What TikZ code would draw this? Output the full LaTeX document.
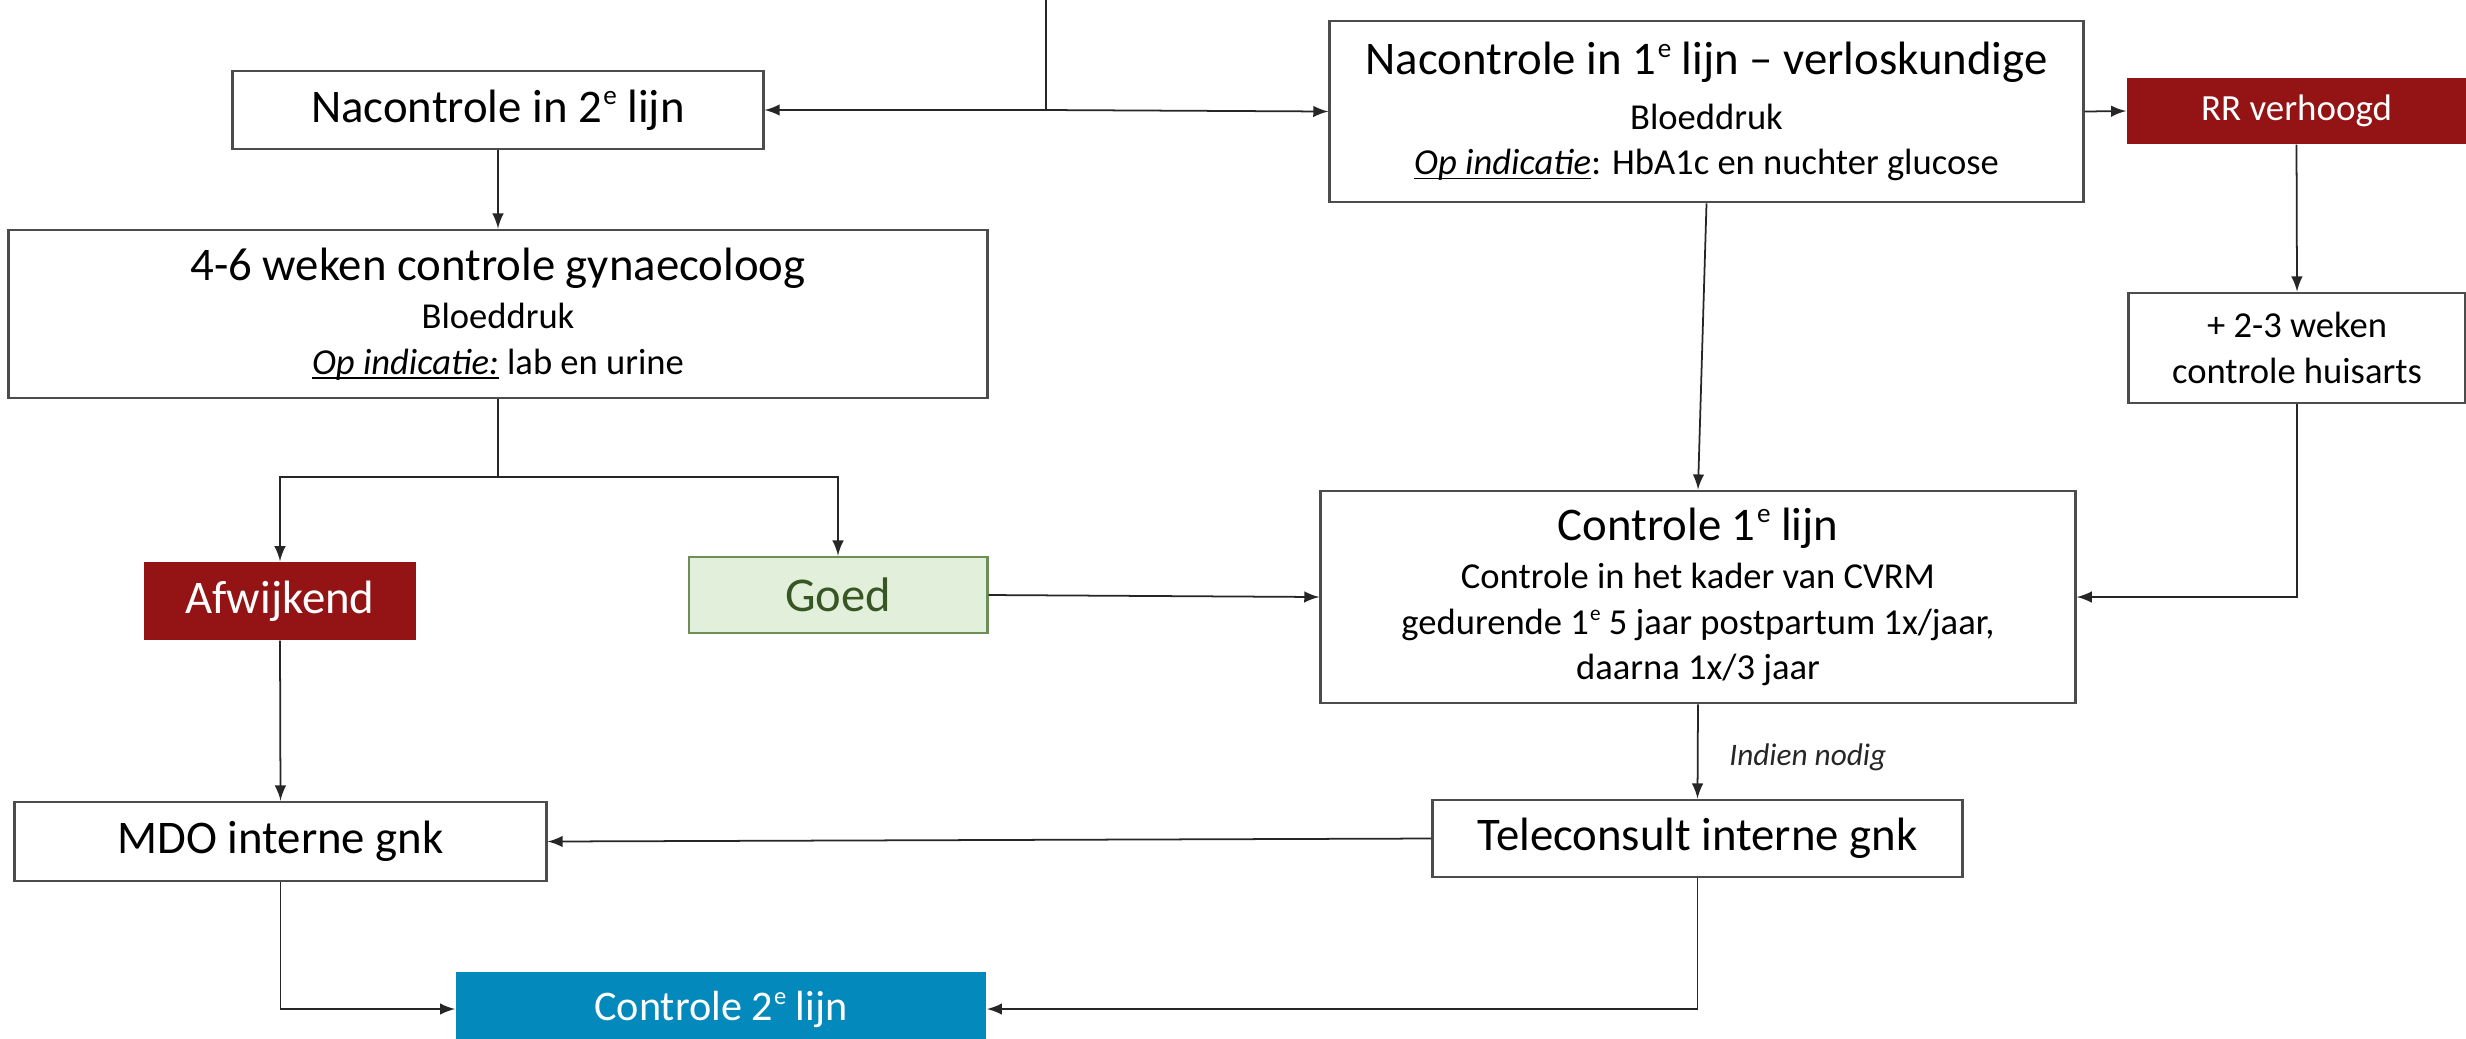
\documentclass[tikz,border=0pt]{standalone}
\usepackage{fontspec}
\setmainfont{Carlito}
\usepackage{graphicx}
\usepackage{tikz}
\definecolor{donkerrood}{RGB}{148,19,20}
\definecolor{lijnblauw}{RGB}{3,137,187}
\definecolor{goedgroen}{RGB}{226,239,218}
\definecolor{goedrand}{RGB}{110,142,88}
\definecolor{goedtekst}{RGB}{55,86,35}
\newcommand{\titel}[1]{{\fontsize{13.3}{16}\selectfont #1}}
\newcommand{\ondstr}[1]{\setbox0\hbox{#1}\rlap{\rule[-1.4pt]{\wd0}{0.5pt}}\box0\relax}
\newcommand{\ste}{\kern0.03em\raisebox{0.38em}{\scalebox{0.58}{e}}}
\tikzset{
  blok/.style={draw=black!70, line width=0.8pt, align=center, font=\fontsize{10.4}{12.9}\selectfont},
  rood/.style={fill=donkerrood, text=white},
  lijn/.style={line width=0.5pt, black!85},
  pijl/.style={lijn, -latex}
}

\begin{document}
\begin{tikzpicture}[x=0.01cm,y=-0.01cm]
\useasboundingbox (0,0) rectangle (2466,1038);

\node[blok, minimum width=5.3cm, minimum height=0.78cm] (n2) at (498,110) {\titel{Nacontrole in 2\ste{} lijn}};
\node[blok, minimum width=7.53cm, minimum height=1.81cm] (n1) at (1706.5,111.5) {\titel{Nacontrole in 1\ste{} lijn \textendash{} verloskundige}\\[2.5pt] Bloeddruk\\ \ondstr{\textit{Op indicatie}}: HbA1c en nuchter glucose};
\node[rood, minimum width=3.39cm, minimum height=0.66cm, font=\fontsize{10.5}{12.6}\selectfont] (rr) at (2296.5,111) {RR verhoogd};
\node[blok, minimum width=3.37cm, minimum height=1.1cm] (huis) at (2297,348) {+ 2-3 weken\\ controle huisarts};

\node[blok, minimum width=9.78cm, minimum height=1.68cm] (gyn) at (498,314) {\titel{4-6 weken controle gynaecoloog}\\[0.8pt] Bloeddruk\\ \ondstr{\textit{Op indicatie:}} lab en urine};
\node[rood, minimum width=2.72cm, minimum height=0.78cm, font=\fontsize{13.3}{16}\selectfont] (afw) at (280,601) {Afwijkend};
\node[fill=goedgroen, draw=goedrand, line width=0.8pt, text=goedtekst, minimum width=2.98cm, minimum height=0.76cm, font=\fontsize{13.8}{16}\selectfont] (goed) at (838,595) {Goed};

\node[blok, minimum width=7.54cm, minimum height=2.12cm] (c1) at (1698,597) {\titel{Controle 1\ste{} lijn}\\[0.8pt] Controle in het kader van CVRM\\ gedurende 1\ste{} 5 jaar postpartum 1x/jaar,\\ daarna 1x/3 jaar};
\node[blok, minimum width=5.29cm, minimum height=0.77cm] (tele) at (1697.5,838.5) {\titel{Teleconsult interne gnk}};
\node[blok, minimum width=5.31cm, minimum height=0.79cm] (mdo) at (280.5,841.5) {\titel{MDO interne gnk}};
\node[fill=lijnblauw, text=white, minimum width=5.3cm, minimum height=0.74cm, font=\fontsize{12}{14}\selectfont] (c2) at (721,1009) {Controle 2\ste{} lijn};

\coordinate (top) at (1046,0);
\coordinate (splitn) at (1046,110);
\draw [lijn](top)--(splitn);
\draw [pijl](splitn)--(n2.east);
\draw [pijl](splitn)--(n1.west);
\draw [pijl](n1.east)--(rr.west);
\draw [pijl](rr.south)--(huis.north);

\draw [pijl](n2.south)--(gyn.north);
\coordinate (splitg) at (498,477);
\draw [lijn](gyn.south)--(splitg);
\draw [pijl](splitg)-|(afw.north);
\draw [pijl](splitg)-|(goed.north);

\draw [pijl](goed.east)--(c1.west);
\draw [pijl](n1.south)--(c1.north);
\draw [pijl](huis.south)|-(c1.east);
\draw [pijl](c1.south)--(tele.north) node[midway, right=0.19cm, yshift=-0.055cm, font=\fontsize{8.9}{10.7}\selectfont\itshape] (nodig) {Indien nodig};

\draw [pijl](tele.west)--(mdo.east);
\draw [pijl](afw.south)--(mdo.north);
\draw [pijl](mdo.south)|-(c2.west);
\draw [pijl](tele.south)|-(c2.east);
\end{tikzpicture}
\end{document}
